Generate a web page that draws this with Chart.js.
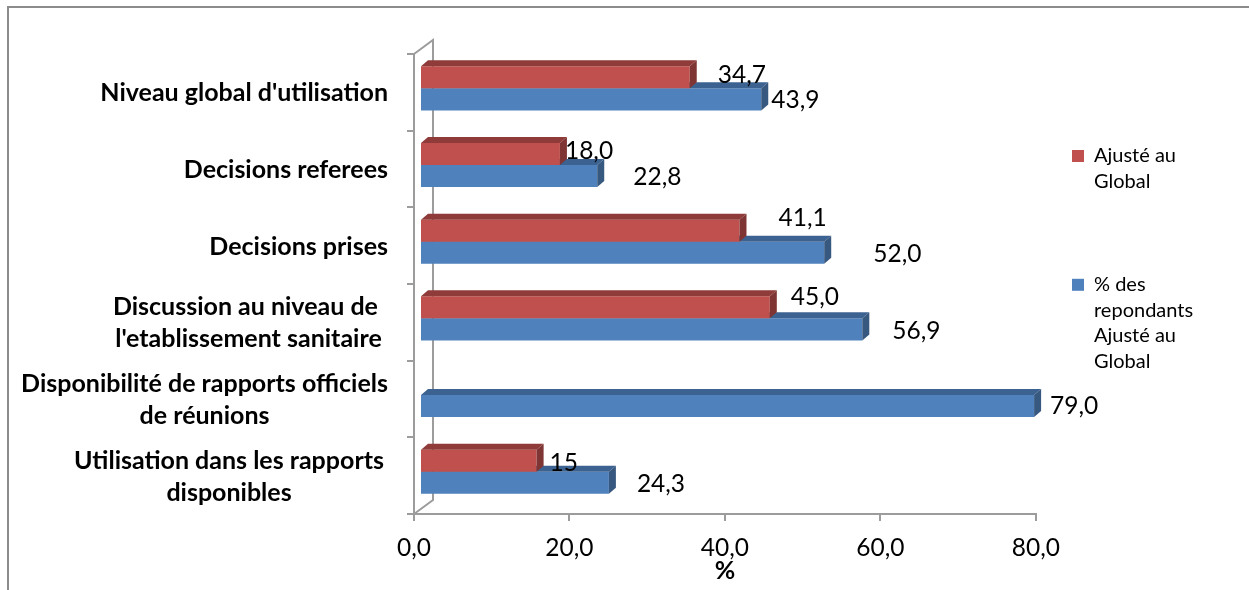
<!DOCTYPE html>
<html>
<head>
<meta charset="utf-8">
<style>
  html, body { margin: 0; padding: 0; background: #fff; }
  #wrap { position: relative; width: 1249px; height: 590px; }
</style>
<script src="https://cdn.jsdelivr.net/npm/chart.js@4/dist/chart.umd.js"></script>
</head>
<body>
<div id="wrap"><canvas id="chart" width="1249" height="590"></canvas></div>
<script>
const categories = [
  ["Niveau global d'utilisation"],
  ['Decisions referees'],
  ['Decisions prises'],
  ['Discussion au niveau de ', "l'etablissement sanitaire"],
  ['Disponibilité de rapports officiels', 'de réunions'],
  ['Utilisation dans les rapports', 'disponibles']
];
const adjustedValues = [34.7, 18.0, 41.1, 45.0, null, 15];
const respondentValues = [43.9, 22.8, 52.0, 56.9, 79.0, 24.3];
const adjustedLabels = ['34,7', '18,0', '41,1', '45,0', '', '15'];
const respondentLabels = ['43,9', '22,8', '52,0', '56,9', '79,0', '24,3'];
const xTicks = ['0,0', '20,0', '40,0', '60,0', '80,0'];

const RED = '#c0504d', RED_TOP = '#8e3b39', RED_SIDE = '#7f3533';
const BLUE = '#4f81bd', BLUE_TOP = '#3c6291', BLUE_SIDE = '#37587f';
const AXIS = '#9c9c9c';
const FONT = 'Lato';

// where the labels sit relative to the end of their bar (hand placed in the original)
const labelNudge = [
  [[21, -2], [3, 1]],
  [[-2, -3], [29, 1]],
  [[32, -13], [42, 1]],
  [[14, -10], [23, 2]],
  [null, [9, 0]],
  [[6, 2], [21, 1]]
];

const DEPTH_X = 7, DEPTH_Y = 6;   // bar extrusion
const SHIFT_X = 6, SHIFT_Y = -4;  // bars sit in the middle of the 3d floor
const WALL_X = 19, WALL_Y = 14;   // back wall offset

function poly(ctx, pts, fill) {
  ctx.beginPath();
  pts.forEach((p, i) => i ? ctx.lineTo(p[0], p[1]) : ctx.moveTo(p[0], p[1]));
  ctx.closePath();
  ctx.fillStyle = fill;
  ctx.fill();
}

const look3d = {
  id: 'look3d',
  beforeDraw(chart) {
    const { ctx, chartArea: a } = chart;
    // outer frame of the picture, only top and left are in the crop
    ctx.save();
    ctx.strokeStyle = '#8c8c8c';
    ctx.lineWidth = 2;
    ctx.beginPath();
    ctx.moveTo(8, 590);
    ctx.lineTo(8, 7);
    ctx.lineTo(1249, 7);
    ctx.stroke();
    // back wall
    ctx.strokeStyle = AXIS;
    ctx.lineWidth = 2;
    ctx.beginPath();
    ctx.moveTo(a.left, a.top);
    ctx.lineTo(a.left + WALL_X, a.top - WALL_Y);
    ctx.lineTo(a.left + WALL_X, a.bottom - WALL_Y);
    ctx.lineTo(a.left, a.bottom);
    ctx.stroke();
    ctx.restore();
    // legend goes where the original has it
    chart.legend.left = 1020;
    chart.legend.top = 94;
  },
  beforeDatasetDraw(chart) {
    chart.ctx.save();
    chart.ctx.translate(SHIFT_X, SHIFT_Y);
  },
  afterDatasetDraw(chart, args) {
    const ctx = chart.ctx;
    const isRed = args.index === 0;
    chart.getDatasetMeta(args.index).data.forEach((bar, i) => {
      if (chart.data.datasets[args.index].data[i] == null) return;
      const p = bar.getProps(['x', 'y', 'base', 'height'], true);
      const top = p.y - p.height / 2, bot = p.y + p.height / 2;
      poly(ctx, [[p.base, top], [p.base + DEPTH_X, top - DEPTH_Y], [p.x + DEPTH_X, top - DEPTH_Y], [p.x, top]], isRed ? RED_TOP : BLUE_TOP);
      poly(ctx, [[p.x, top], [p.x + DEPTH_X, top - DEPTH_Y], [p.x + DEPTH_X, bot - DEPTH_Y], [p.x, bot]], isRed ? RED_SIDE : BLUE_SIDE);
    });
    ctx.restore();
  },
  afterDatasetsDraw(chart) {
    const ctx = chart.ctx;
    ctx.save();
    ctx.font = '24.5px ' + FONT;
    ctx.fillStyle = '#000';
    ctx.textAlign = 'left';
    ctx.textBaseline = 'middle';
    [adjustedLabels, respondentLabels].forEach((texts, d) => {
      chart.getDatasetMeta(d).data.forEach((bar, i) => {
        const n = labelNudge[i][d];
        if (!n) return;
        const p = bar.getProps(['x', 'y'], true);
        ctx.fillText(texts[i], p.x + SHIFT_X + DEPTH_X + n[0], p.y + SHIFT_Y + n[1]);
      });
    });
    ctx.restore();
  },
  afterDraw(chart) {
    // category labels: lines are centred inside a right-aligned block
    const ctx = chart.ctx, y = chart.scales.y;
    ctx.save();
    ctx.font = 'bold 25px ' + FONT;
    ctx.fillStyle = '#000';
    ctx.textAlign = 'center';
    ctx.textBaseline = 'middle';
    categories.forEach((lines, i) => {
      const w = Math.max(...lines.map(l => ctx.measureText(l).width));
      const right = lines.length > 1 && i !== 4 ? 384 : 388;
      const cy = y.getPixelForTick(i) + 1;
      lines.forEach((l, k) => {
        ctx.fillText(l, right - w / 2, cy + (k - (lines.length - 1) / 2) * 32);
      });
    });
    ctx.restore();
  }
};

new Chart(document.getElementById('chart').getContext('2d'), {
  type: 'bar',
  plugins: [look3d],
  data: {
    labels: categories,
    datasets: [
      { label: 'Ajusté au Global', data: adjustedValues, backgroundColor: RED },
      { label: '% des repondants Ajusté au Global', data: respondentValues, backgroundColor: BLUE }
    ]
  },
  options: {
    indexAxis: 'y',
    responsive: false,
    animation: false,
    categoryPercentage: 0.575,
    barPercentage: 1,
    layout: { padding: { top: 54, bottom: 0, left: 0, right: 30 } },
    scales: {
      x: {
        min: 0,
        max: 80,
        afterBuildTicks(axis) {
          axis.ticks = xTicks.map((t, i) => ({ value: i * 20 }));
        },
        afterFit(axis) { axis.height = 76; },
        ticks: {
          color: '#000',
          font: { family: FONT, size: 24.5 },
          maxRotation: 0,
          padding: 12,
          callback: (v, i) => xTicks[i]
        },
        grid: { drawOnChartArea: false, color: AXIS, tickLength: 7, lineWidth: 2 },
        border: { color: AXIS, width: 2 },
        title: {
          display: true,
          text: '%',
          color: '#000',
          font: { family: FONT, size: 25, weight: 'bold' },
          padding: { top: 0, bottom: 4 }
        }
      },
      y: {
        afterFit(axis) { axis.width = 414; },
        ticks: { display: false },
        grid: { drawOnChartArea: false, color: AXIS, offset: true, tickLength: 7, lineWidth: 2 },
        border: { color: AXIS, width: 2 }
      }
    },
    plugins: {
      tooltip: { enabled: false },
      legend: {
        position: 'right',
        align: 'start',
        labels: {
          boxWidth: 12,
          boxHeight: 12,
          padding: 52,
          color: '#000',
          font: { family: FONT, size: 20, lineHeight: 1.28 },
          generateLabels(chart) {
            return [
              { text: ['Ajusté au', 'Global', ''], fillStyle: RED, strokeStyle: RED, lineWidth: 0, datasetIndex: 0 },
              { text: ['% des', 'repondants', 'Ajusté au', 'Global'], fillStyle: BLUE, strokeStyle: BLUE, lineWidth: 0, datasetIndex: 1 }
            ];
          }
        }
      }
    }
  }
});
</script>
</body>
</html>
